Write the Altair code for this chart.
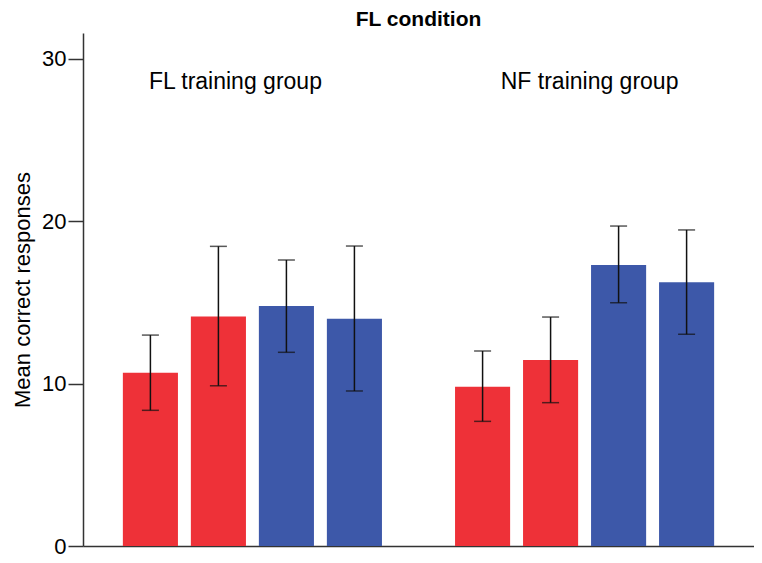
import altair as alt
import pandas as pd

# ---- data ----
groups = ["FL training group"] * 4 + ["NF training group"] * 4
bars = ["b1", "b2", "b3", "b4"] * 2
series = ["red", "red", "blue", "blue"] * 2
means = [10.66, 14.13, 14.77, 13.99, 9.80, 11.45, 17.29, 16.23]
upper = [12.98, 18.44, 17.60, 18.46, 12.00, 14.09, 19.69, 19.45]
lower = [8.35, 9.86, 11.92, 9.54, 7.67, 8.82, 14.97, 13.03]
y_ticks = [0, 10, 20, 30]
group_names = ["FL training group", "NF training group"]

df = pd.DataFrame({
    "group": groups, "bar": bars, "series": series,
    "mean": means, "upper": upper, "lower": lower,
})
labels_df = pd.DataFrame({"group": group_names})

FONT = "Liberation Sans"
RED = "#EE3138"
BLUE = "#3D58A9"

x_enc = alt.X("group:N", sort=group_names,
              scale=alt.Scale(paddingInner=0.22, paddingOuter=0.12),
              axis=alt.Axis(title=None, labels=False, ticks=False, domain=True,
                            domainColor="#333333", domainWidth=1.5))
xo_enc = alt.XOffset("bar:N", scale=alt.Scale(paddingInner=0.19, paddingOuter=0))
y_scale = alt.Scale(domain=[0, 31.57], nice=False, zero=True)

bars_layer = alt.Chart(df).mark_bar().encode(
    x=x_enc,
    xOffset=xo_enc,
    y=alt.Y("mean:Q", scale=y_scale,
            axis=alt.Axis(title="Mean correct responses", values=y_ticks, grid=False,
                          tickSize=15, tickColor="#333333", tickWidth=1.5,
                          domainColor="#333333", domainWidth=1.5,
                          labelFont=FONT, labelFontSize=22, labelColor="#000000",
                          labelPadding=2,
                          titleFont=FONT, titleFontSize=22, titleFontWeight="normal",
                          titleColor="#000000", titlePadding=7)),
    color=alt.Color("series:N", scale=alt.Scale(domain=["red", "blue"], range=[RED, BLUE]),
                    legend=None),
)

rules = alt.Chart(df).mark_rule(color="#111111", strokeWidth=1.5).encode(
    x=alt.X("group:N", sort=group_names),
    xOffset=alt.XOffset("bar:N"),
    y=alt.Y("lower:Q", scale=y_scale),
    y2="upper:Q",
)

caps_top = alt.Chart(df).mark_tick(color="#111111", thickness=1.5, size=17).encode(
    x=alt.X("group:N", sort=group_names),
    xOffset=alt.XOffset("bar:N"),
    y=alt.Y("upper:Q", scale=y_scale),
)
caps_bot = alt.Chart(df).mark_tick(color="#111111", thickness=1.5, size=17).encode(
    x=alt.X("group:N", sort=group_names),
    xOffset=alt.XOffset("bar:N"),
    y=alt.Y("lower:Q", scale=y_scale),
)

label_fl = alt.Chart(labels_df).transform_filter(
    alt.datum.group == "FL training group"
).mark_text(font=FONT, fontSize=23, color="#000000", dx=-17, baseline="alphabetic").encode(
    x=alt.X("group:N", sort=group_names),
    y=alt.value(56),
    text="group:N",
)
label_nf = alt.Chart(labels_df).transform_filter(
    alt.datum.group == "NF training group"
).mark_text(font=FONT, fontSize=23, color="#000000", dx=5, baseline="alphabetic").encode(
    x=alt.X("group:N", sort=group_names),
    y=alt.value(56),
    text="group:N",
)

chart = alt.layer(bars_layer, rules, caps_top, caps_bot, label_fl, label_nf).properties(
    width=671,
    height=513,
    title=alt.TitleParams("FL condition", font=FONT, fontSize=21, fontWeight="bold",
                          color="#000000", anchor="middle", offset=3),
    autosize=alt.AutoSizeParams(type="none"),
    padding={"left": 75, "top": 25, "right": 0, "bottom": 14},
    background="#FFFFFF",
).configure_view(stroke=None)

chart.save("out.html", embed_options={"renderer": "svg", "actions": False})
